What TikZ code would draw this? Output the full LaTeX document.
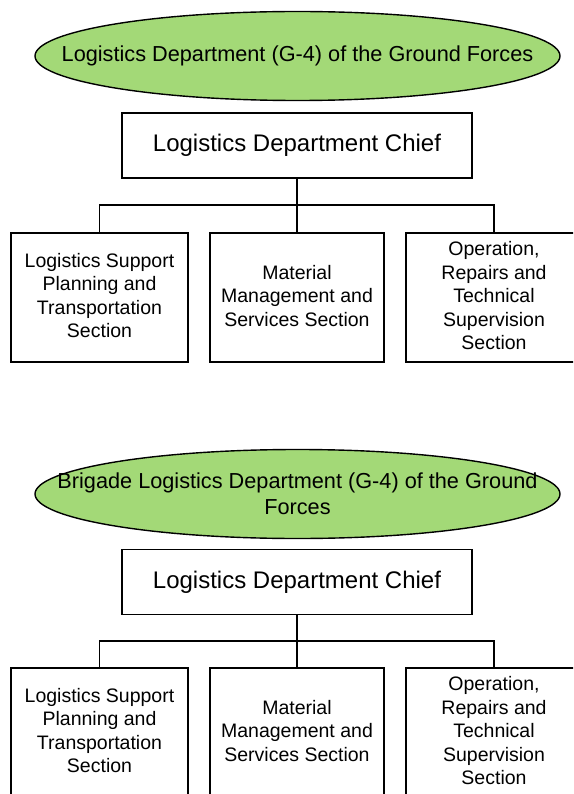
\documentclass[tikz,border=0pt]{standalone}
\usepackage{fontspec}
\setmainfont{Liberation Sans}
\usetikzlibrary{shapes.geometric}
\definecolor{hdgreen}{HTML}{A3D977}
\begin{document}
\begin{tikzpicture}[x=1pt,y=-1pt,
  titleshape/.style={ellipse,draw=black,line width=1.4pt,fill=hdgreen,minimum width=525pt,minimum height=89pt,inner sep=0pt},
  titletext/.style={align=center,inner sep=0pt,font=\fontsize{21.7}{26}\selectfont},
  chief/.style={rectangle,draw=black,line width=1.4pt,fill=white,minimum width=350pt,minimum height=65pt,inner sep=0pt,font=\fontsize{24}{28}\selectfont},
  section/.style={rectangle,draw=black,line width=1.4pt,fill=white,minimum height=129pt,inner sep=0pt,text depth=4pt,align=center,font=\fontsize{19.5}{23.5}\selectfont},
  link/.style={draw=black,line width=1.4pt}]
\useasboundingbox (0,0) rectangle (573,794);
\begin{scope}
\clip (0,0) rectangle (573,794);
% top chart
\node[titleshape] (t1) at (297.5,56) {};
\node[titletext] (t1text) at (t1.center) {Logistics Department (G-4) of the Ground Forces};
\node[chief] (c1) at (297,145.5) {Logistics Department Chief};
\node[section,minimum width=177pt] (l1) at (99.5,297.5) {Logistics Support\\Planning and\\Transportation\\Section};
\node[section,minimum width=174pt] (m1) at (297,297.5) {Material\\Management and\\Services Section};
\node[section,minimum width=176pt] (r1) at (494,297.5) {Operation,\\Repairs and\\Technical\\Supervision\\Section};
\coordinate (j1) at (297,205);
\draw[link] (c1.south) -- (m1.north);
\draw[link] (l1.north) |- (j1) -| (r1.north);
% bottom chart
\node[titleshape] (t2) at (297.5,494) {};
\node[titletext] (t2text) at (t2.center) {Brigade Logistics Department (G-4) of the Ground\\Forces};
\node[chief] (c2) at (297,582) {Logistics Department Chief};
\node[section,minimum width=177pt] (l2) at (99.5,732.5) {Logistics Support\\Planning and\\Transportation\\Section};
\node[section,minimum width=174pt] (m2) at (297,732.5) {Material\\Management and\\Services Section};
\node[section,minimum width=176pt] (r2) at (494,732.5) {Operation,\\Repairs and\\Technical\\Supervision\\Section};
\coordinate (j2) at (297,641);
\draw[link] (c2.south) -- (m2.north);
\draw[link] (l2.north) |- (j2) -| (r2.north);
\end{scope}
\end{tikzpicture}
\end{document}
